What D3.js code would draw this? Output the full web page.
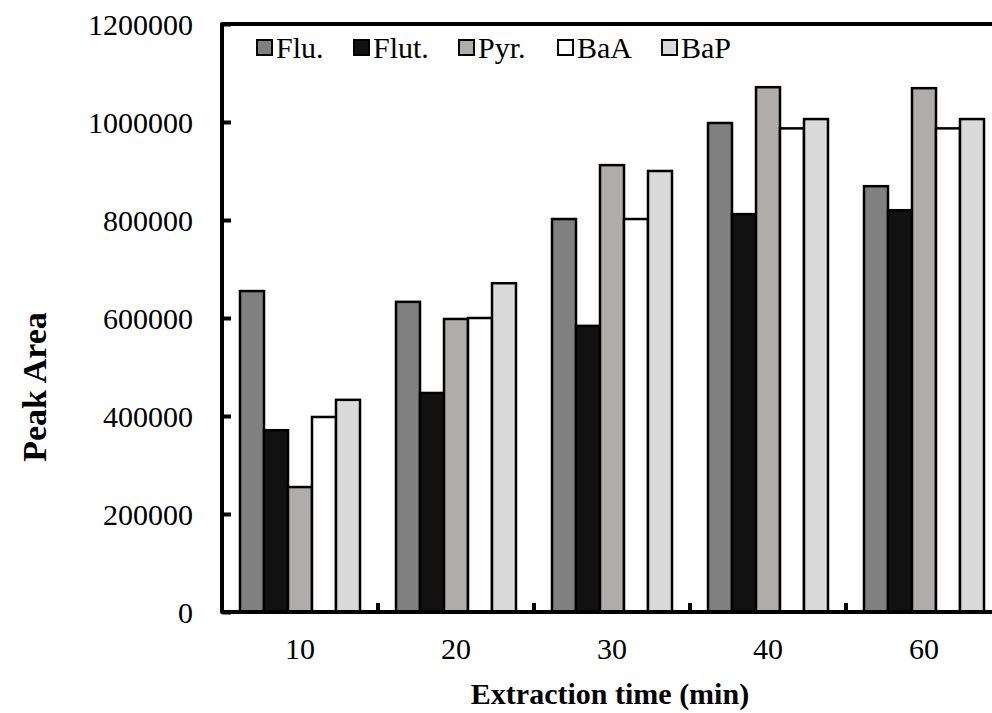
<!DOCTYPE html>
<html>
<head>
<meta charset="utf-8">
<script src="https://cdn.jsdelivr.net/npm/d3@7"></script>
<style>
  body { margin: 0; background: #fff; }
  text { font-family: "Liberation Serif", "DejaVu Serif", serif; }
</style>
</head>
<body>
<div id="chart"></div>
<script>
const categories = ['10', '20', '30', '40', '60']
const seriesNames = ['Flu.', 'Flut.', 'Pyr.', 'BaA', 'BaP']
const seriesColors = ['#808080', '#111111', '#b0acaa', '#ffffff', '#d9d9d9']
const flu = [655000, 633000, 802000, 998000, 869000]
const flut = [371000, 447000, 584000, 812000, 820000]
const pyr = [255000, 598000, 912000, 1071000, 1069000]
const baa = [398000, 600000, 802000, 987000, 987000]
const bap = [433000, 671000, 900000, 1006000, 1006000]
const yTicks = [0, 200000, 400000, 600000, 800000, 1000000, 1200000]

const values = [flu, flut, pyr, baa, bap]
const rows = categories.map((c, i) => ({
  cat: c,
  vals: seriesNames.map((s, j) => ({ name: s, color: seriesColors[j], v: values[j][i] }))
}))

const width = 992
const height = 713
const margin = { left: 222, top: 24, bottom: 101 }
const plotRight = margin.left + 5 * 156
const plotBottom = height - margin.bottom
const serif = '"Liberation Serif", "DejaVu Serif", serif'

const svg = d3.select('#chart')
  .append('svg')
  .attr('width', width)
  .attr('height', height)
  .attr('font-family', serif)

const x0 = d3.scaleBand()
  .domain(categories)
  .range([margin.left, plotRight])
  .padding(0)

const x1 = d3.scaleBand()
  .domain(seriesNames)
  .range([18, x0.bandwidth() - 18])
  .padding(0)

const y = d3.scaleLinear()
  .domain([0, 1200000])
  .range([plotBottom, margin.top])

// bars
svg.append('g')
  .selectAll('g')
  .data(rows)
  .join('g')
  .attr('transform', d => `translate(${x0(d.cat)},0)`)
  .selectAll('rect')
  .data(d => d.vals)
  .join('rect')
  .attr('x', d => x1(d.name))
  .attr('y', d => y(d.v))
  .attr('width', x1.bandwidth())
  .attr('height', d => y(0) - y(d.v))
  .attr('fill', d => d.color)
  .attr('stroke', '#000')
  .attr('stroke-width', 2.5)

// y axis ticks (inside)
const yAxis = svg.append('g')
  .attr('transform', `translate(${margin.left},0)`)
  .call(d3.axisRight(y).tickValues(yTicks).tickSize(9).tickFormat(''))
yAxis.select('.domain').remove()
yAxis.selectAll('line').attr('stroke', '#000').attr('stroke-width', 4)

svg.append('g')
  .selectAll('text')
  .data(yTicks)
  .join('text')
  .attr('x', 193)
  .attr('y', d => y(d))
  .attr('dy', '0.35em')
  .attr('text-anchor', 'end')
  .attr('font-family', serif)
  .style('font-size', '30px')
  .text(d => d)

// x axis ticks between categories
const bounds = categories.slice(1).map(c => x0(c))
svg.append('g')
  .selectAll('line')
  .data(bounds)
  .join('line')
  .attr('x1', d => d)
  .attr('x2', d => d)
  .attr('y1', plotBottom)
  .attr('y2', plotBottom - 9)
  .attr('stroke', '#000')
  .attr('stroke-width', 4)

svg.append('g')
  .selectAll('text')
  .data(categories)
  .join('text')
  .attr('x', d => x0(d) + x0.bandwidth() / 2)
  .attr('y', 659)
  .attr('text-anchor', 'middle')
  .attr('font-family', serif)
  .style('font-size', '30px')
  .text(d => d)

// frame (left, top, bottom)
svg.append('path')
  .attr('d', `M${plotRight},${margin.top}H${margin.left}V${plotBottom}H${plotRight}`)
  .attr('fill', 'none')
  .attr('stroke', '#000')
  .attr('stroke-width', 4)
  .attr('stroke-linejoin', 'round')

// legend
const legendX = [257, 354, 459, 558, 662]
const legend = svg.append('g')
  .selectAll('g')
  .data(seriesNames)
  .join('g')
  .attr('transform', (d, i) => `translate(${legendX[i]},40)`)
legend.append('rect')
  .attr('width', 15)
  .attr('height', 15)
  .attr('fill', (d, i) => seriesColors[i])
  .attr('stroke', '#000')
  .attr('stroke-width', 2)
legend.append('text')
  .attr('x', 19)
  .attr('y', 18)
  .attr('font-family', serif)
  .style('font-size', '30px')
  .text(d => d)

// axis titles
svg.append('text')
  .attr('x', 610)
  .attr('y', 704)
  .attr('text-anchor', 'middle')
  .attr('font-family', serif)
  .style('font-size', '30px')
  .style('font-weight', 'bold')
  .text('Extraction time (min)')

svg.append('text')
  .attr('transform', 'translate(46,387) rotate(-90)')
  .attr('text-anchor', 'middle')
  .attr('font-family', serif)
  .style('font-size', '34px')
  .style('font-weight', 'bold')
  .text('Peak Area')
</script>
</body>
</html>
